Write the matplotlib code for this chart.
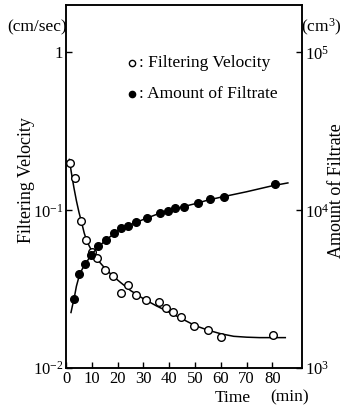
import matplotlib
matplotlib.use("Agg")
from matplotlib import pyplot as plt

plt.rcParams['font.family'] = ['Liberation Serif', 'DejaVu Serif']
plt.rcParams['mathtext.fontset'] = 'custom'
plt.rcParams['mathtext.rm'] = 'Liberation Serif'
plt.rcParams['mathtext.default'] = 'regular'

# measured points (time in min)
vel_time = [1.5, 3.5, 5.7, 7.6, 10.0, 11.9, 15.1, 18.1, 21.2, 24.1, 27.1,
            30.9, 36.0, 38.6, 41.6, 44.6, 49.7, 55.2, 60.0, 80.3]
vel_value = [0.20, 0.159, 0.0853, 0.065, 0.0544, 0.050, 0.0421, 0.0383,
             0.0298, 0.0334, 0.0291, 0.0271, 0.0263, 0.0242, 0.0227,
             0.0212, 0.0184, 0.0174, 0.0157, 0.0161]

filt_time = [3.1, 5.2, 7.4, 9.7, 12.3, 15.5, 18.7, 21.2, 24.1, 27.0, 31.3,
             36.4, 39.4, 42.2, 45.7, 51.3, 55.8, 61.2, 81.0]
filt_value = [2755, 3955, 4540, 5240, 5915, 6510, 7170, 7710, 7965, 8370,
              8910, 9580, 9910, 10300, 10550, 11070, 11730, 12190, 14630]

# fitted curves
vel_curve_t = [1.3, 2, 3, 4, 5, 6, 7, 8, 10, 12, 15, 18, 21, 25, 30, 35,
               40, 45, 50, 55, 60, 65, 70, 75, 80, 85]
vel_curve_v = [0.21, 0.175, 0.14, 0.115, 0.097, 0.084, 0.072, 0.064, 0.055,
               0.049, 0.043, 0.0385, 0.035, 0.031, 0.0275, 0.0248, 0.0226,
               0.0205, 0.0186, 0.0174, 0.0165, 0.0159, 0.0157, 0.0156,
               0.0156, 0.0156]

filt_curve_t = [1.9, 2.5, 3.1, 4, 5.2, 6.3, 7.4, 10, 15, 20, 25, 30, 35, 40,
                45, 50, 55, 60, 70, 80, 86]
filt_curve_v = [2250, 2500, 2755, 3300, 3900, 4250, 4540, 5300, 6400, 7400,
                8100, 8750, 9400, 10000, 10500, 11000, 11600, 12100, 13100,
                14300, 14900]

left_ticks = [0.01, 0.1, 1]
left_labels = ['10$^{-2}$', '10$^{-1}$', '1']
right_ticks = [1e3, 1e4, 1e5]
right_labels = ['10$^{3}$', '10$^{4}$', '10$^{5}$']
x_ticks = [0, 10, 20, 30, 40, 50, 60, 70, 80]

fig = plt.figure(figsize=(3.46, 4.09), dpi=100)
ax = fig.add_axes([0.191, 0.100, 0.682, 0.888])
ax2 = ax.twinx()

ax.plot(vel_curve_t, vel_curve_v, color='k', lw=1.1)
ax.plot(vel_time, vel_value, 'o', mfc='white', mec='k', mew=1.0, ms=5.5)
ax2.plot(filt_curve_t, filt_curve_v, color='k', lw=1.1)
ax2.plot(filt_time, filt_value, 'o', mfc='k', mec='k', ms=5.5)

ax.set_yscale('log')
ax2.set_yscale('log')
ax.set_xlim(0, 91.5)
ax.set_ylim(0.01, 2.0)
ax2.set_ylim(1e3, 2e5)

ax.set_xticks(x_ticks)
ax.set_yticks(left_ticks)
ax.set_yticklabels(left_labels)
ax2.set_yticks(right_ticks)
ax2.set_yticklabels(right_labels)
ax.minorticks_off()
ax2.minorticks_off()

ax.tick_params(direction='in', length=4, width=1, labelsize=12, pad=2)
ax2.tick_params(direction='in', length=4, width=1, labelsize=12, pad=2)
for a in (ax, ax2):
    for s in a.spines.values():
        s.set_linewidth(1.1)

fig.text(0.078, 0.56, 'Filtering Velocity', fontsize=13, rotation=90,
         ha='center', va='center')
fig.text(0.972, 0.535, 'Amount of Filtrate', fontsize=13, rotation=90,
         ha='center', va='center')

fig.text(0.107, 0.934, '(cm/sec)', fontsize=12.5, ha='center', va='center')
fig.text(0.93, 0.934, '(cm$^{3}$)', fontsize=12.5, ha='center', va='center')
fig.text(0.673, 0.028, 'Time', fontsize=12.5, ha='center', va='center')
fig.text(0.838, 0.028, '(min)', fontsize=12.5, ha='center', va='center')

# legend drawn by hand
ax.plot([0.28], [0.84], 'o', transform=ax.transAxes, mfc='white', mec='k',
        mew=1.0, ms=4.5, clip_on=False)
ax.plot([0.28], [0.755], 'o', transform=ax.transAxes, mfc='k', mec='k',
        ms=4.5, clip_on=False)
ax.text(0.31, 0.84, ': Filtering Velocity', transform=ax.transAxes,
        fontsize=12.5, va='center')
ax.text(0.31, 0.755, ': Amount of Filtrate', transform=ax.transAxes,
        fontsize=12.5, va='center')

fig.savefig('out.png', dpi=100)
